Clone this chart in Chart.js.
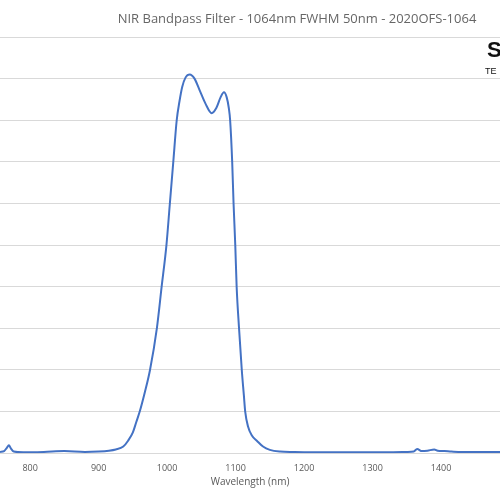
<!DOCTYPE html>
<html>
<head>
<script src="https://cdn.jsdelivr.net/npm/chart.js@4"></script>
<style>
  body { margin: 0; background: #fff; }
  #wrap { width: 500px; height: 500px; }
</style>
</head>
<body>
<div id="wrap"><canvas id="myChart"></canvas></div>
<script>
const wavelengths = [756, 762, 766, 769, 772, 776, 790, 820, 850, 880, 900, 915, 925, 936, 943, 950, 955, 960, 968, 975, 985, 992, 999, 1004, 1009, 1014, 1018, 1022, 1027, 1033, 1040, 1048, 1056, 1065, 1072, 1078, 1083, 1087, 1090, 1092, 1095, 1097, 1099.5, 1101.5, 1105, 1109, 1112, 1114, 1118, 1124, 1131, 1140, 1150, 1165, 1185, 1200, 1250, 1300, 1350, 1360, 1365, 1372, 1380, 1390, 1395, 1405, 1415, 1430, 1460, 1486];
const transmission = [0.3, 0.5, 1.3, 1.9, 1.1, 0.4, 0.2, 0.3, 0.5, 0.3, 0.4, 0.6, 0.9, 1.6, 3, 5, 7.5, 10, 15, 20, 30, 40, 50, 60, 70, 80, 84.5, 88, 90.3, 91, 90, 87, 84, 81.7, 83, 85.5, 86.7, 85.5, 83, 80, 70, 60, 50, 40, 30, 20, 14, 10, 6.5, 4.2, 3, 1.6, 0.8, 0.4, 0.3, 0.25, 0.2, 0.2, 0.3, 0.4, 1.0, 0.5, 0.6, 0.9, 0.6, 0.5, 0.4, 0.3, 0.3, 0.3];
const xTicks = [800, 900, 1000, 1100, 1200, 1300, 1400];
const chartTitle = 'NIR Bandpass Filter - 1064nm FWHM 50nm - 2020OFS-1064';

const titlePlugin = {
  id: 'offsetTitle',
  afterDraw(chart) {
    const c = chart.ctx;
    c.save();
    c.font = '13px "Open Sans", sans-serif';
    c.fillStyle = '#666';
    c.textAlign = 'center';
    c.textBaseline = 'middle';
    c.fillText(chartTitle, 297, 19);
    c.font = 'bold 22px "Liberation Sans", sans-serif';
    c.fillStyle = '#111';
    c.textAlign = 'left';
    c.fillText('S', 487, 51);
    c.font = '9px "Liberation Sans", sans-serif';
    c.fillText('TE', 485, 72);
    c.restore();
  }
};

const data = {
  datasets: [{
    label: 'Transmission',
    data: wavelengths.map((w, i) => ({ x: w, y: transmission[i] })),
    borderColor: '#4472c4',
    borderWidth: 2,
    pointRadius: 0,
    cubicInterpolationMode: 'monotone',
    fill: false
  }]
};

new Chart(document.getElementById('myChart'), {
  type: 'line',
  data: data,
  plugins: [titlePlugin],
  options: {
    responsive: true,
    maintainAspectRatio: false,
    animation: false,
    layout: { padding: { top: 37, left: 0, right: 0, bottom: 12 } },
    plugins: { legend: { display: false }, tooltip: { enabled: false } },
    scales: {
      x: {
        type: 'linear',
        min: 756,
        max: 1486,
        afterBuildTicks: axis => { axis.ticks = xTicks.map(v => ({ value: v })); },
        grid: { display: false },
        border: { color: '#d9d9d9' },
        ticks: { color: '#595959', font: { family: 'Open Sans', size: 9 }, padding: 2, maxRotation: 0, callback: v => String(v) },
        title: { display: true, text: 'Wavelength (nm)', color: '#595959', font: { family: 'Open Sans', size: 10 }, padding: { top: 0, bottom: 0 } }
      },
      y: {
        min: 0,
        max: 100,
        ticks: { stepSize: 10, display: false },
        grid: { color: '#d9d9d9', drawTicks: false },
        border: { display: false }
      }
    }
  }
});
</script>
</body>
</html>
